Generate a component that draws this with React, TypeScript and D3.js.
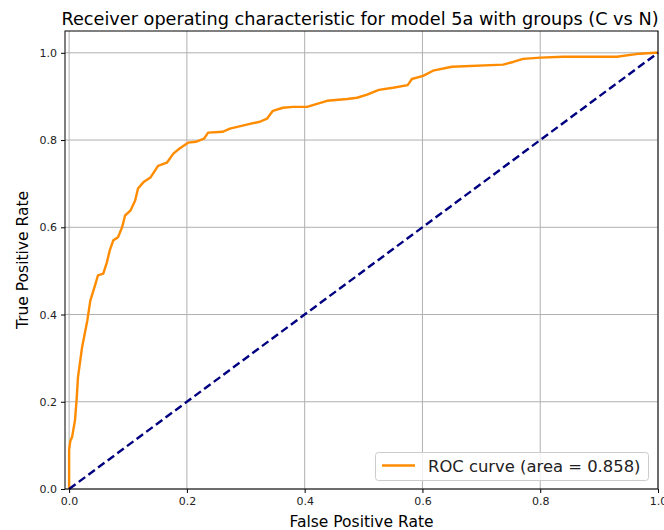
import * as d3 from 'd3'
import React from 'react'

// ROC curve
const fpr = [0, 0, 0.002, 0.005, 0.010, 0.013, 0.015, 0.022, 0.031, 0.036, 0.044, 0.049, 0.058, 0.064, 0.069, 0.075, 0.083, 0.090, 0.095, 0.104, 0.112, 0.117, 0.126, 0.138, 0.151, 0.166, 0.177, 0.187, 0.202, 0.215, 0.229, 0.236, 0.261, 0.273, 0.307, 0.324, 0.336, 0.346, 0.363, 0.380, 0.404, 0.421, 0.438, 0.472, 0.489, 0.506, 0.526, 0.550, 0.575, 0.582, 0.601, 0.618, 0.650, 0.737, 0.754, 0.771, 0.800, 0.839, 0.930, 0.969, 0.995, 1]
const tpr = [0, 0.09, 0.11, 0.119, 0.158, 0.21, 0.256, 0.325, 0.387, 0.432, 0.467, 0.49, 0.494, 0.519, 0.547, 0.57, 0.577, 0.6, 0.627, 0.638, 0.661, 0.689, 0.703, 0.714, 0.741, 0.748, 0.769, 0.78, 0.794, 0.796, 0.803, 0.817, 0.819, 0.826, 0.837, 0.842, 0.849, 0.867, 0.874, 0.876, 0.876, 0.883, 0.89, 0.894, 0.897, 0.904, 0.915, 0.92, 0.926, 0.94, 0.947, 0.959, 0.968, 0.973, 0.979, 0.986, 0.989, 0.991, 0.991, 0.998, 1, 1]
const chance = [0, 1]
const ticks = [0, 0.2, 0.4, 0.6, 0.8, 1.0]
const title = 'Receiver operating characteristic for model 5a with groups (C vs N)'
const legendLabel = 'ROC curve (area = 0.858)'
const xLabel = 'False Positive Rate'
const yLabel = 'True Positive Rate'

const W = 664
const H = 530
const font = 'DejaVu Sans'

export default function App() {
    const ref = React.useRef<SVGSVGElement>(null)

    React.useEffect(() => {
        const svg = d3.select(ref.current)
        svg.selectAll('*').remove()

        const x = d3.scaleLinear().domain([-0.007, 1.0]).range([65, 658])
        const y = d3.scaleLinear().domain([0, 1.05]).range([489, 31])
        const [x0, x1] = x.range()
        const [y0, y1] = y.range()

        svg.append('rect').attr('width', W).attr('height', H).attr('fill', 'white')

        // grid
        const grid = svg.append('g')
        grid.selectAll('.gx').data(ticks).enter().append('line')
            .attr('x1', d => x(d)).attr('x2', d => x(d))
            .attr('y1', y0).attr('y2', y1)
            .attr('stroke', '#b0b0b0').attr('stroke-width', 1)
        grid.selectAll('.gy').data(ticks).enter().append('line')
            .attr('x1', x0).attr('x2', x1)
            .attr('y1', d => y(d)).attr('y2', d => y(d))
            .attr('stroke', '#b0b0b0').attr('stroke-width', 1)

        // curves
        const line = d3.line<number>().x((d, i) => x(fpr[i])).y(d => y(d))
        svg.append('path')
            .attr('d', line(tpr))
            .attr('fill', 'none')
            .attr('stroke', '#ff8c00')
            .attr('stroke-width', 2.4)
            .attr('stroke-linejoin', 'round')

        const diag = d3.line<number>().x(d => x(d)).y(d => y(d))
        svg.append('path')
            .attr('d', diag(chance))
            .attr('fill', 'none')
            .attr('stroke', '#000080')
            .attr('stroke-width', 2.4)
            .attr('stroke-dasharray', '8,4')

        // frame
        svg.append('rect')
            .attr('x', x0).attr('y', y1)
            .attr('width', x1 - x0).attr('height', y0 - y1)
            .attr('fill', 'none').attr('stroke', 'black').attr('stroke-width', 1)

        // axes
        const xAxis = svg.append('g').attr('transform', `translate(0,${y0})`)
            .call(d3.axisBottom(x).tickValues(ticks).tickFormat(d3.format('.1f')).tickSize(4).tickSizeOuter(0))
        const yAxis = svg.append('g').attr('transform', `translate(${x0},0)`)
            .call(d3.axisLeft(y).tickValues(ticks).tickFormat(d3.format('.1f')).tickSize(4).tickSizeOuter(0))
        for (const a of [xAxis, yAxis]) {
            a.select('.domain').remove()
            a.selectAll('text').attr('font-family', font).attr('font-size', 11).attr('fill', '#222')
            a.selectAll('line').attr('stroke', 'black')
        }
        xAxis.selectAll('text').attr('dy', '0.71em').attr('y', 8)
        yAxis.selectAll('text').attr('x', -8)

        // labels
        svg.append('text')
            .attr('x', 360).attr('y', 25)
            .attr('text-anchor', 'middle')
            .attr('font-family', font).attr('font-size', 17.7)
            .text(title)
        svg.append('text')
            .attr('x', (x0 + x1) / 2).attr('y', 527)
            .attr('text-anchor', 'middle')
            .attr('font-family', font).attr('font-size', 15.5)
            .text(xLabel)
        svg.append('text')
            .attr('transform', `translate(28,${(y0 + y1) / 2}) rotate(-90)`)
            .attr('text-anchor', 'middle')
            .attr('font-family', font).attr('font-size', 15.5)
            .text(yLabel)

        // legend
        const lg = svg.append('g')
        lg.append('rect')
            .attr('x', 375.5).attr('y', 452.5).attr('width', 273).attr('height', 28)
            .attr('rx', 3).attr('fill', 'white').attr('fill-opacity', 0.8)
            .attr('stroke', '#cccccc')
        lg.append('line')
            .attr('x1', 382).attr('x2', 415).attr('y1', 465.5).attr('y2', 465.5)
            .attr('stroke', '#ff8c00').attr('stroke-width', 2.4)
        lg.append('text')
            .attr('x', 428).attr('y', 471.5)
            .attr('font-family', font).attr('font-size', 16.4).attr('fill', '#222')
            .text(legendLabel)
    }, [])

    return (
        <svg ref={ref} width={W} height={H} style={{ position: 'absolute', left: 0, top: 0 }} />
    )
}
